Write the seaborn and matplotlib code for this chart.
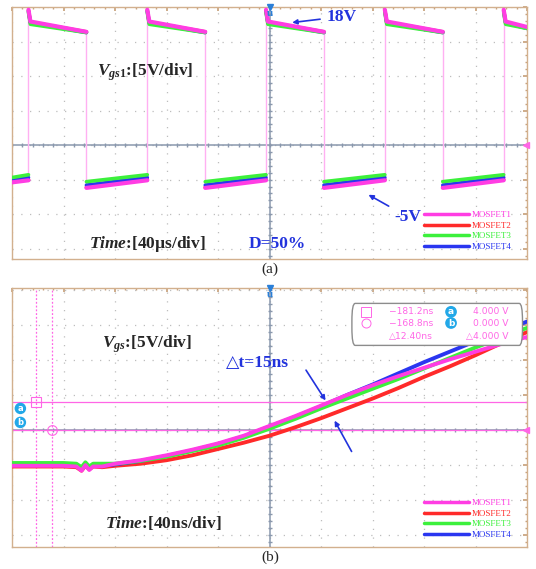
import numpy as np
import pandas as pd
import matplotlib
matplotlib.use('Agg')
import matplotlib.pyplot as plt
import seaborn as sns
from matplotlib.lines import Line2D
from matplotlib.patches import FancyBboxPatch

# Series and colours (scope channel colours)
series = ['MOSFET1', 'MOSFET2', 'MOSFET3', 'MOSFET4']
colors = ['#ff3de3', '#ff2a2a', '#3cf03c', '#2a36f0']
draw_order = [1, 3, 2, 0]  # red, blue, green, magenta on top

# (a) gate voltage, 40us/div -- edge times (us) and levels (V)
a_t_left, a_t_right = -200, 200
a_rise_us = [-187.2, -94.9, -2.7, 89.6, 181.9]
a_fall_us = [-142.2, -49.9, 42.3, 134.6]
a_spike = [19.6, 19.5, 19.2, 19.4]
a_high_start = [17.9, 17.8, 17.5, 17.7]
a_high_end = [16.4, 16.4, 16.3, 16.3]
a_high_right = [17.1, 17.0, 16.9, 16.9]
a_low_start = [-6.2, -6.1, -5.3, -5.8]
a_low_end = [-5.1, -5.0, -4.3, -4.7]
a_low_left = [-5.4, -5.3, -4.7, -5.0]

# (b) turn-on edge, 40ns/div
b_t_ns = [-200, -180, -160, -150, -146, -143, -140, -137, -130, -120, -100, -80, -60,
          -40, -20, 0, 20, 40, 60, 80, 100, 120, 140, 160, 180, 200]
b_mosfet1 = [-5.1, -5.1, -5.1, -5.2, -5.8, -5.0, -5.7, -5.2, -5.2, -4.8, -4.3, -3.6, -2.8,
             -1.9, -0.8, 0.6, 2.0, 3.5, 5.0, 6.4, 7.7, 8.9, 10.1, 11.2, 12.3, 13.3]
b_mosfet2 = [-5.2, -5.2, -5.2, -5.3, -5.8, -5.1, -5.6, -5.2, -5.3, -5.1, -4.8, -4.3, -3.6,
             -2.7, -1.8, -0.8, 0.4, 1.7, 3.1, 4.5, 6.0, 7.6, 9.1, 10.7, 12.4, 14.0]
b_mosfet3 = [-4.7, -4.7, -4.7, -4.8, -5.3, -4.6, -5.2, -4.8, -4.8, -4.8, -4.4, -3.8, -3.0,
             -2.2, -1.1, 0.2, 1.6, 3.1, 4.5, 5.9, 7.3, 8.8, 10.3, 11.8, 13.2, 14.6]
b_mosfet4 = [-5.0, -5.0, -5.0, -5.1, -5.6, -4.9, -5.5, -5.0, -5.1, -4.9, -4.4, -3.7, -2.9,
             -2.0, -0.9, 0.5, 1.9, 3.4, 5.0, 6.5, 8.1, 9.7, 11.2, 12.7, 14.1, 15.5]
b_cursor_t = [-181.2, -168.8]
b_cursor_v = [4.0, 0.0]

sns.set_theme(style='white')
plt.rcParams['font.family'] = ['Liberation Serif', 'DejaVu Sans']
plt.rcParams['mathtext.fontset'] = 'custom'
plt.rcParams['mathtext.it'] = 'Liberation Serif:italic:bold'
plt.rcParams['mathtext.rm'] = 'Liberation Serif:bold'

# build panel (a) segments
rows = []
for i, name in enumerate(series):
    seg = 0
    rows += [(name, seg, a_t_left, a_low_left[i]), (name, seg, a_rise_us[0], a_low_end[i])]
    for k, r in enumerate(a_rise_us):
        seg += 1
        if k < len(a_fall_us):
            f, v_end = a_fall_us[k], a_high_end[i]
        else:
            f, v_end = a_t_right, a_high_right[i]
        rows += [(name, seg, r, a_spike[i]), (name, seg, r + 1.5, a_high_start[i]), (name, seg, f, v_end)]
        if k < len(a_fall_us):
            seg += 1
            rows += [(name, seg, f, a_low_start[i]), (name, seg, a_rise_us[k + 1], a_low_end[i])]
df_a = pd.DataFrame(rows, columns=['device', 'seg', 't', 'v'])

df_b = pd.DataFrame({'t': b_t_ns * 4,
                     'v': b_mosfet1 + b_mosfet2 + b_mosfet3 + b_mosfet4,
                     'device': np.repeat(series, len(b_t_ns))})

fig = plt.figure(figsize=(5.36, 5.69), dpi=100)
ax_a = fig.add_axes([12 / 536, 1 - 259 / 569, 515 / 536, 252 / 569])
ax_b = fig.add_axes([12 / 536, 1 - 547 / 569, 515 / 536, 259 / 569])

blue_txt = '#2233dd'
pink = '#ff66e6'


def scope_style(ax, ylim):
    ax.set_xlim(-200, 200)
    ax.set_ylim(*ylim)
    ax.set_xticks(np.arange(-200, 201, 40))
    ax.set_yticks(np.arange(-15, 21, 5))
    ax.set_xticks(np.arange(-200, 201, 8), minor=True)
    ax.set_yticks(np.arange(-16, 21, 1), minor=True)
    ax.tick_params(which='both', direction='in', top=True, right=True,
                   labelbottom=False, labelleft=False, color='#c8a27c')
    ax.tick_params(which='major', length=3)
    ax.tick_params(which='minor', length=1.5)
    ax.grid(True, which='major', color='#bdbdbd', linestyle=(0, (1, 6)), lw=0.9)
    ax.set_axisbelow(True)
    for s in ax.spines.values():
        s.set_color('#d2b08e')
        s.set_linewidth(1.0)
    ax.axhline(0, color='#8a98ad', lw=1.1, zorder=1)
    ax.axvline(0, color='#8a98ad', lw=1.1, zorder=1)
    xs = np.arange(-200, 201, 8)
    ax.plot(xs, np.zeros(len(xs)), ls='none', marker='|', ms=3, color='#8a98ad', zorder=1)
    ys = np.arange(-16, 21, 1)
    ax.plot(np.zeros(len(ys)), ys, ls='none', marker='_', ms=3, color='#8a98ad', zorder=1)
    # channel marker at top, ground arrow at right
    ax.plot([0], [ylim[1]], marker='v', ms=4, color='#2a7fd8', clip_on=False, zorder=5)
    ax.text(0, ylim[1] - 0.9, 'u', color='#2a7fd8', fontsize=8, fontweight='bold',
            ha='center', va='center', zorder=5)
    ax.plot([199], [0], marker='<', ms=4, color=pink, clip_on=False, zorder=5)
    ax.set_xlabel('')
    ax.set_ylabel('')


def scope_legend(ax, anchor):
    handles = [Line2D([], [], color=c, lw=2.5) for c in colors]
    leg = ax.legend(handles, series, loc='lower right', bbox_to_anchor=anchor,
                    frameon=False, fontsize=6.5, labelcolor=colors, handlelength=5.0,
                    handletextpad=0.3, labelspacing=0.25, borderpad=0.1)
    leg.set_zorder(6)


# ---- panel (a)
scope_style(ax_a, (-16.5, 20.0))
ax_a.vlines(a_rise_us, a_low_end[0], a_spike[0], color='#ffb0f2', lw=1, zorder=2)
ax_a.vlines(a_fall_us, a_low_start[0], a_high_end[0], color='#ffb0f2', lw=1, zorder=2)
for i in draw_order:
    sns.lineplot(data=df_a[df_a['device'] == series[i]], x='t', y='v', units='seg',
                 estimator=None, color=colors[i], lw=3.0 if i == 0 else 2.6, ax=ax_a, zorder=3)
ax_a.set_xlabel('')
ax_a.set_ylabel('')

ax_a.text(-134, 10.6, r'$V_{gs1}$:[5V/div]', fontsize=12.5, fontweight='bold',
          va='center', ha='left')
ax_a.text(-140, -14.3, r'$Time$:[40µs/div]', fontsize=12.5, fontweight='bold',
          va='center', ha='left')
ax_a.text(-16, -14.3, 'D=50%', fontsize=12.5, fontweight='bold', color=blue_txt,
          va='center', ha='left')
ax_a.annotate('18V', xy=(15.5, 17.7), xytext=(44, 18.6), fontsize=12.5, fontweight='bold',
              color=blue_txt, va='center', ha='left',
              arrowprops=dict(arrowstyle='-|>', color=blue_txt, lw=1.2, mutation_scale=7))
ax_a.annotate('-5V', xy=(75, -7.0), xytext=(97, -10.4), fontsize=12.5, fontweight='bold',
              color=blue_txt, va='center', ha='left',
              arrowprops=dict(arrowstyle='-|>', color=blue_txt, lw=1.2, mutation_scale=7))
scope_legend(ax_a, (0.98, 0.01))

# ---- panel (b)
scope_style(ax_b, (-16.7, 20.3))
for v in b_cursor_v:
    ax_b.axhline(v, color=pink, lw=0.9, zorder=2)
for t in b_cursor_t:
    ax_b.axvline(t, color=pink, lw=0.9, ls=(0, (1.5, 1.5)), zorder=2)
ax_b.plot([b_cursor_t[0]], [b_cursor_v[0]], marker='s', ms=7, mfc='none', mec=pink, mew=0.8, zorder=3)
ax_b.plot([b_cursor_t[1]], [b_cursor_v[1]], marker='o', ms=7, mfc='none', mec=pink, mew=0.8, zorder=3)
for lab, v in zip(['a', 'b'], [3.1, 1.1]):
    ax_b.text(-193.5, v, lab, color='white', fontsize=6, fontweight='bold', ha='center',
              va='center', family='DejaVu Sans',
              bbox=dict(boxstyle='circle,pad=0.15', fc='#22a8e8', ec='none'))

for i in draw_order:
    sns.lineplot(data=df_b[df_b['device'] == series[i]], x='t', y='v', estimator=None,
                 color=colors[i], lw=2.8, ax=ax_b, zorder=3)
ax_b.set_xlabel('')
ax_b.set_ylabel('')

# cursor readout box
box = FancyBboxPatch((64, 12.1), 132.5, 6.0, boxstyle='round,pad=0,rounding_size=2.5',
                     fc='white', ec='#8c8c8c', lw=1.0, zorder=6)
ax_b.add_patch(box)
rows_y = [16.9, 15.3, 13.4]
ax_b.plot([75], [rows_y[0]], marker='s', ms=6.5, mfc='none', mec=pink, mew=0.7, zorder=7)
ax_b.plot([75], [rows_y[1]], marker='o', ms=6.5, mfc='none', mec=pink, mew=0.7, zorder=7)
readout = [('\u2212181.2ns', '4.000 V'), ('\u2212168.8ns', '0.000 V'), ('\u25b312.40ns', '\u25b34.000 V')]
for (tt, vv), y in zip(readout, rows_y):
    ax_b.text(127, y, tt, color=pink, fontsize=6.6, ha='right', va='center',
              family='DejaVu Sans', zorder=7)
    ax_b.text(186, y, vv, color=pink, fontsize=6.6, ha='right', va='center',
              family='DejaVu Sans', zorder=7)
for lab, y in zip(['a', 'b'], rows_y[:2]):
    ax_b.text(141, y, lab, color='white', fontsize=6.5, fontweight='bold', ha='center',
              va='center', family='DejaVu Sans', zorder=7,
              bbox=dict(boxstyle='circle,pad=0.15', fc='#22a8e8', ec='none'))

ax_b.text(-130, 12.3, r'$V_{gs}$:[5V/div]', fontsize=12.5, fontweight='bold',
          va='center', ha='left')
ax_b.text(-128, -13.3, r'$Time$:[40ns/div]', fontsize=12.5, fontweight='bold',
          va='center', ha='left')
ax_b.text(-34, 9.6, '\u25b3t=15ns', fontsize=12.5, fontweight='bold', color=blue_txt,
          va='center', ha='left')
ax_b.annotate('', xy=(44.7, 3.9), xytext=(27.2, 8.9),
              arrowprops=dict(arrowstyle='-|>', color=blue_txt, lw=1.2, mutation_scale=7))
ax_b.annotate('', xy=(49.5, 1.7), xytext=(64.8, -3.4),
              arrowprops=dict(arrowstyle='-|>', color=blue_txt, lw=1.2, mutation_scale=7))
scope_legend(ax_b, (0.98, 0.01))

fig.text(270 / 536, 1 - 269 / 569, '(a)', fontsize=11, ha='center', va='center')
fig.text(270 / 536, 1 - 557 / 569, '(b)', fontsize=11, ha='center', va='center')

fig.savefig('out.png', dpi=100)
